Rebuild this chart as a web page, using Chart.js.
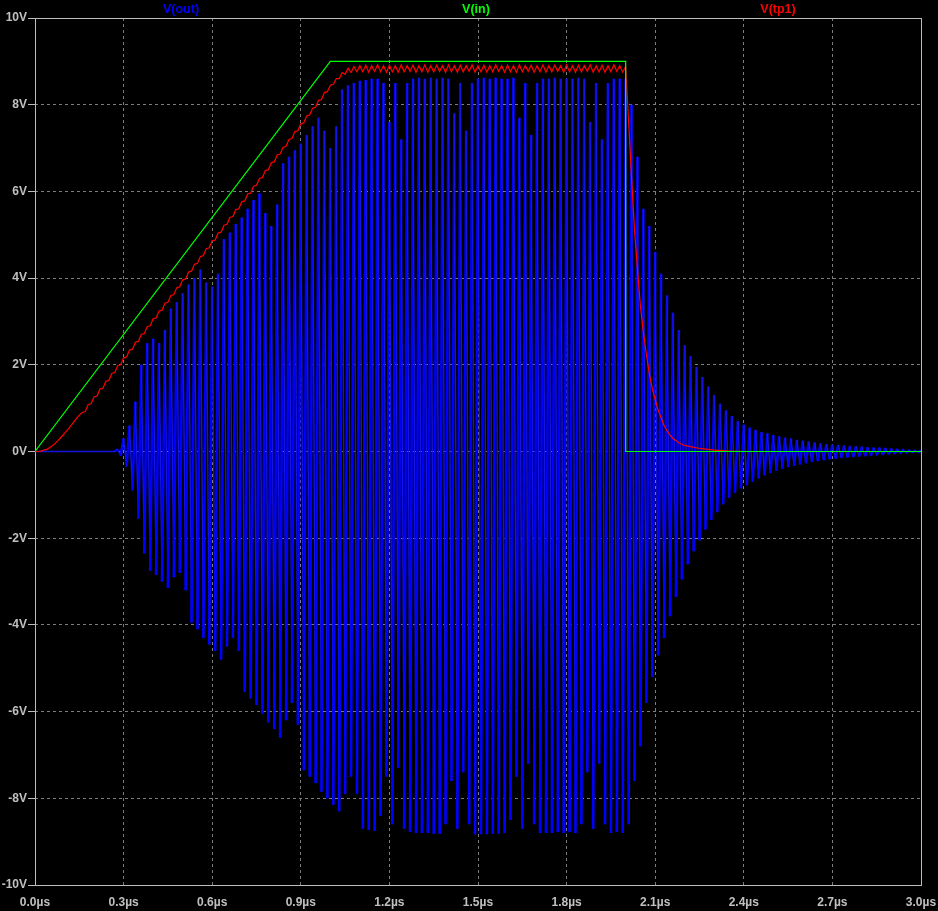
<!DOCTYPE html>
<html><head><meta charset="utf-8">
<script src="https://cdn.jsdelivr.net/npm/chart.js@4.4.1/dist/chart.umd.min.js"></script>
<style>html,body{margin:0;padding:0;background:#000;overflow:hidden}canvas{display:block}</style>
</head><body>
<canvas id="c" width="938" height="911"></canvas>
<script>
// ---- tick labels / names ----
const xTickValues = [0,0.3,0.6,0.9,1.2,1.5,1.8,2.1,2.4,2.7,3.0];
const yTickValues = [-10,-8,-6,-4,-2,0,2,4,6,8,10];
const traceNames = ['V(out)','V(in)','V(tp1)'];

// ---- V(in) ----
const inTimes = [0,1.0,2.0,2.0,3.0];
const inVolts = [0,9,9,0,0];

// ---- V(out) (peaks of the 50 MHz ringing) ----
const outTimes = [0,0.27,0.28,0.29,
0.30,0.31,0.32,0.33,0.34,0.35,0.36,0.37,0.38,0.39,
0.40,0.41,0.42,0.43,0.44,0.45,0.46,0.47,0.48,0.49,
0.50,0.51,0.52,0.53,0.54,0.55,0.56,0.57,0.58,0.59,
0.60,0.61,0.62,0.63,0.64,0.65,0.66,0.67,0.68,0.69,
0.70,0.71,0.72,0.73,0.74,0.75,0.76,0.77,0.78,0.79,
0.80,0.81,0.82,0.83,0.84,0.85,0.86,0.87,0.88,0.89,
0.90,0.91,0.92,0.93,0.94,0.95,0.96,0.97,0.98,0.99,
1.00,1.01,1.02,1.03,1.04,1.05,1.06,1.07,1.08,1.09,
1.10,1.11,1.12,1.13,1.14,1.15,1.16,1.17,1.18,1.19,
1.20,1.21,1.22,1.23,1.24,1.25,1.26,1.27,1.28,1.29,
1.30,1.31,1.32,1.33,1.34,1.35,1.36,1.37,1.38,1.39,
1.40,1.41,1.42,1.43,1.44,1.45,1.46,1.47,1.48,1.49,
1.50,1.51,1.52,1.53,1.54,1.55,1.56,1.57,1.58,1.59,
1.60,1.61,1.62,1.63,1.64,1.65,1.66,1.67,1.68,1.69,
1.70,1.71,1.72,1.73,1.74,1.75,1.76,1.77,1.78,1.79,
1.80,1.81,1.82,1.83,1.84,1.85,1.86,1.87,1.88,1.89,
1.90,1.91,1.92,1.93,1.94,1.95,1.96,1.97,1.98,1.99,
2.00,2.01,2.02,2.03,2.04,2.05,2.06,2.07,2.08,2.09,
2.10,2.11,2.12,2.13,2.14,2.15,2.16,2.17,2.18,2.19,
2.20,2.21,2.22,2.23,2.24,2.25,2.26,2.27,2.28,2.29,
2.30,2.31,2.32,2.33,2.34,2.35,2.36,2.37,2.38,2.39,
2.40,2.41,2.42,2.43,2.44,2.45,2.46,2.47,2.48,2.49,
2.50,2.51,2.52,2.53,2.54,2.55,2.56,2.57,2.58,2.59,
2.60,2.61,2.62,2.63,2.64,2.65,2.66,2.67,2.68,2.69,
2.70,2.71,2.72,2.73,2.74,2.75,2.76,2.77,2.78,2.79,
2.80,2.81,2.82,2.83,2.84,2.85,2.86,2.87,2.88,2.89,
2.90,2.91,2.92,2.93,2.94,2.95,2.96,2.97,2.98,2.99,
3.00];
const outVolts = [0,0,0.05,-0.1,
0.3,-0.35,0.6,-0.9,1.15,-1.55,2.0,-2.35,2.5,-2.75,
2.6,-2.85,2.5,-3.0,2.8,-3.15,3.3,-2.9,3.45,-2.8,
3.65,-3.2,3.85,-3.95,4.0,-4.1,4.2,-4.3,3.9,-4.45,
3.8,-4.6,4.1,-4.8,4.9,-4.5,5.05,-4.3,5.25,-4.6,
5.4,-5.55,5.6,-5.7,5.8,-5.85,5.95,-6.05,5.5,-6.25,
5.2,-6.4,5.7,-6.6,6.65,-6.2,6.8,-5.8,6.95,-6.3,
7.1,-7.35,7.3,-7.5,7.5,-7.65,7.7,-7.85,7.4,-8.0,
7.0,-8.15,7.5,-8.3,8.35,-7.9,8.45,-7.5,8.5,-7.9,
8.55,-8.7,8.57,-8.73,8.6,-8.75,8.6,-8.4,8.5,-7.5,
7.6,-8.6,8.5,-7.3,7.2,-8.7,8.5,-8.78,8.6,-8.8,
8.62,-8.8,8.6,-8.8,8.62,-8.82,8.6,-8.82,8.62,-8.6,
8.6,-7.6,7.8,-8.7,8.5,-7.4,7.4,-8.6,8.5,-8.83,
8.6,-8.83,8.62,-8.83,8.6,-8.82,8.62,-8.82,8.6,-8.8,
8.6,-8.5,8.62,-7.5,7.7,-8.7,8.5,-7.2,7.3,-8.6,
8.5,-8.8,8.6,-8.8,8.6,-8.8,8.62,-8.78,8.6,-8.8,
8.6,-8.78,8.6,-8.8,8.62,-8.6,8.6,-7.4,7.6,-8.7,
8.5,-7.2,7.2,-8.6,8.5,-8.8,8.6,-8.78,8.6,-8.8,
8.6,-8.6,8.0,-7.6,6.8,-6.8,5.6,-5.8,5.2,-5.2,
4.6,-4.7,4.1,-4.3,3.6,-3.8,3.2,-3.35,2.8,-2.95,
2.45,-2.6,2.2,-2.3,1.95,-2.05,1.72,-1.8,1.5,-1.58,
1.3,-1.4,1.1,-1.22,0.95,-1.07,0.82,-0.95,0.7,-0.85,
0.62,-0.78,0.55,-0.7,0.5,-0.62,0.45,-0.55,0.42,-0.5,
0.38,-0.45,0.35,-0.4,0.32,-0.36,0.3,-0.33,0.27,-0.3,
0.25,-0.27,0.23,-0.24,0.21,-0.22,0.19,-0.2,0.17,-0.18,
0.16,-0.17,0.15,-0.15,0.14,-0.14,0.13,-0.13,0.12,-0.12,
0.11,-0.11,0.1,-0.1,0.09,-0.09,0.09,-0.08,0.08,-0.07,
0.07,-0.06,0.06,-0.05,0.05,-0.04,0.04,-0.03,0.03,-0.02,
0.02];

// ---- V(tp1) ----
const tp1Times = [
0.00,0.01,0.02,0.03,0.04,0.05,0.06,0.07,0.08,0.09,
0.10,0.11,0.12,0.13,0.14,0.15,0.16,0.17,0.18,0.19,
0.20,0.21,0.22,0.23,0.24,0.25,0.26,0.27,0.28,0.29,
0.30,0.31,0.32,0.33,0.34,0.35,0.36,0.37,0.38,0.39,
0.40,0.41,0.42,0.43,0.44,0.45,0.46,0.47,0.48,0.49,
0.50,0.51,0.52,0.53,0.54,0.55,0.56,0.57,0.58,0.59,
0.60,0.61,0.62,0.63,0.64,0.65,0.66,0.67,0.68,0.69,
0.70,0.71,0.72,0.73,0.74,0.75,0.76,0.77,0.78,0.79,
0.80,0.81,0.82,0.83,0.84,0.85,0.86,0.87,0.88,0.89,
0.90,0.91,0.92,0.93,0.94,0.95,0.96,0.97,0.98,0.99,
1.00,1.01,1.02,1.03,1.04,1.05,1.06,1.07,1.08,1.09,
1.10,1.11,1.12,1.13,1.14,1.15,1.16,1.17,1.18,1.19,
1.20,1.21,1.22,1.23,1.24,1.25,1.26,1.27,1.28,1.29,
1.30,1.31,1.32,1.33,1.34,1.35,1.36,1.37,1.38,1.39,
1.40,1.41,1.42,1.43,1.44,1.45,1.46,1.47,1.48,1.49,
1.50,1.51,1.52,1.53,1.54,1.55,1.56,1.57,1.58,1.59,
1.60,1.61,1.62,1.63,1.64,1.65,1.66,1.67,1.68,1.69,
1.70,1.71,1.72,1.73,1.74,1.75,1.76,1.77,1.78,1.79,
1.80,1.81,1.82,1.83,1.84,1.85,1.86,1.87,1.88,1.89,
1.90,1.91,1.92,1.93,1.94,1.95,1.96,1.97,1.98,1.99,
2.00,
2.01,2.02,2.03,2.04,2.05,2.06,2.07,2.08,2.09,2.10,2.11,2.12,2.13,2.14,2.15,2.16,
2.18,2.20,2.25,2.30,2.35,2.40,3.00];
const tp1Volts = [
0,0,0.01,0.03,0.05,0.09,0.14,0.2,0.27,0.34,
0.42,0.5,0.58,0.67,0.76,0.84,0.9,0.92,1.08,1.1,
1.26,1.28,1.44,1.46,1.62,1.64,1.8,1.82,1.98,2.0,
2.16,2.18,2.34,2.36,2.52,2.54,2.7,2.72,2.88,2.9,
3.06,3.08,3.24,3.26,3.42,3.44,3.6,3.62,3.78,3.8,
3.96,3.98,4.14,4.16,4.32,4.34,4.5,4.52,4.68,4.7,
4.86,4.88,5.04,5.06,5.22,5.24,5.4,5.42,5.58,5.6,
5.76,5.78,5.94,5.96,6.12,6.14,6.3,6.32,6.48,6.5,
6.66,6.68,6.84,6.86,7.02,7.04,7.2,7.22,7.38,7.4,
7.56,7.58,7.74,7.76,7.92,7.94,8.1,8.12,8.28,8.3,
8.45,8.47,8.6,8.6,8.74,8.7,8.84,8.74,8.88,8.76,
8.9,8.76,8.91,8.75,8.9,8.77,8.92,8.76,8.9,8.75,
8.91,8.76,8.9,8.75,8.92,8.76,8.9,8.77,8.91,8.75,
8.9,8.76,8.92,8.75,8.9,8.76,8.91,8.77,8.9,8.75,
8.92,8.76,8.9,8.75,8.91,8.76,8.9,8.77,8.92,8.75,
8.9,8.76,8.91,8.75,8.9,8.76,8.92,8.77,8.9,8.75,
8.91,8.76,8.9,8.75,8.92,8.76,8.9,8.77,8.91,8.75,
8.9,8.76,8.92,8.75,8.9,8.76,8.91,8.77,8.9,8.75,
8.92,8.76,8.9,8.75,8.91,8.76,8.9,8.77,8.92,8.75,
8.9,8.76,8.91,8.75,8.9,8.76,8.92,8.77,8.9,8.75,
8.88,
7.6,6.3,5.1,4.2,3.35,2.75,2.25,1.8,1.45,1.2,0.95,0.78,0.6,0.48,0.38,0.3,
0.2,0.14,0.07,0.03,0.01,0,0];

function toPoints(ts, vs) { return ts.map((t, i) => ({ x: t, y: vs[i] })); }

const FONT = "'Liberation Sans', Arial, sans-serif";
const LABEL = '#c0c0c0';
const GRID = '#7c7c7c';

const frameAndNames = {
  id: 'frameAndNames',
  beforeDatasetsDraw(chart) {
    const { ctx, chartArea: a } = chart;
    ctx.save();
    ctx.strokeStyle = '#bdbdbd';
    ctx.lineWidth = 1;
    ctx.strokeRect(Math.round(a.left) + 0.5, Math.round(a.top) + 0.5,
      Math.round(a.right - a.left), Math.round(a.bottom - a.top));
    ctx.restore();
  },
  afterDraw(chart) {
    const { ctx, chartArea: a } = chart;
    const colors = ['#0000ff', '#00ff00', '#ff0000'];
    const fr = [0.1648, 0.4977, 0.8386];
    ctx.save();
    ctx.font = 'bold 12.5px ' + FONT;
    ctx.textAlign = 'center';
    ctx.textBaseline = 'middle';
    traceNames.forEach((n, i) => {
      ctx.fillStyle = colors[i];
      ctx.fillText(n, a.left + fr[i] * (a.right - a.left), 10);
    });
    ctx.restore();
  }
};

new Chart(document.getElementById('c'), {
  type: 'line',
  data: {
    datasets: [
      {
        label: traceNames[0], data: toPoints(outTimes, outVolts),
        borderColor: '#0000ff', borderWidth: 2, order: 3,
        segment: {
          borderWidth: c => (c.p0DataIndex % 2 === 1 ? 2.6 : 1.4),
          borderColor: c => (c.p0DataIndex % 2 === 1 ? '#0000ff' : '#1414e0')
        }
      },
      { label: traceNames[1], data: toPoints(inTimes, inVolts), borderColor: '#00ff00', borderWidth: 1.2, order: 1 },
      { label: traceNames[2], data: toPoints(tp1Times, tp1Volts), borderColor: '#ff0000', borderWidth: 1.2, order: 2 }
    ]
  },
  options: {
    responsive: false,
    devicePixelRatio: 1,
    animation: false,
    elements: { point: { radius: 0 }, line: { tension: 0, fill: false } },
    layout: { padding: { top: 18, right: 17, left: 0, bottom: 0 } },
    plugins: { legend: { display: false }, tooltip: { enabled: false }, title: { display: false } },
    scales: {
      x: {
        type: 'linear', min: 0, max: 3,
        afterBuildTicks: s => { s.ticks = xTickValues.map(v => ({ value: v })); },
        afterFit: s => { s.height = 26; s.paddingLeft = 0; s.paddingRight = 0; },
        ticks: {
          callback: v => Number(v).toFixed(1) + 'µs',
          color: LABEL, font: { family: FONT, size: 12, weight: 'bold' },
          padding: 10, maxRotation: 0, autoSkip: false
        },
        grid: {
          color: c => (c.tick && (Math.abs(c.tick.value) < 1e-9 || Math.abs(c.tick.value - 3) < 1e-9)) ? 'rgba(0,0,0,0)' : GRID,
          drawTicks: false, lineWidth: 1
        },
        border: { display: false, dash: [3, 3] }
      },
      y: {
        type: 'linear', min: -10, max: 10,
        afterBuildTicks: s => { s.ticks = yTickValues.map(v => ({ value: v })); },
        afterFit: s => { s.width = 35; s.paddingTop = 0; s.paddingBottom = 0; },
        ticks: {
          callback: v => v + 'V',
          color: LABEL, font: { family: FONT, size: 12, weight: 'bold' },
          padding: 1, autoSkip: false
        },
        grid: {
          color: c => (c.tick && Math.abs(c.tick.value) === 10) ? 'rgba(0,0,0,0)' : GRID,
          tickColor: '#bdbdbd', tickLength: 7, drawTicks: true, lineWidth: 1
        },
        border: { display: false, dash: [3, 3] }
      }
    }
  },
  plugins: [frameAndNames]
});
</script>
</body></html>
